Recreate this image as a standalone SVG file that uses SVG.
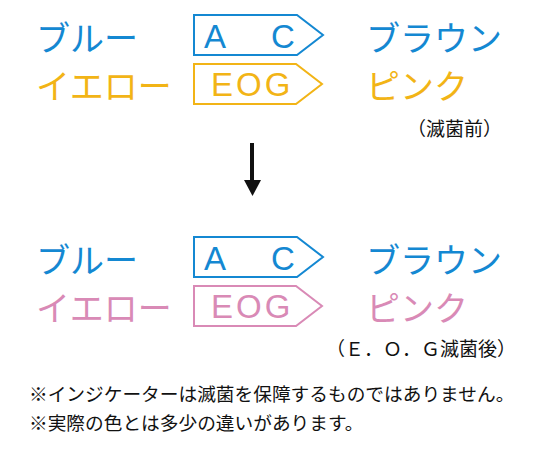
<svg xmlns="http://www.w3.org/2000/svg" width="540" height="450" viewBox="0 0 540 450">
<style>
.jp{font-family:"Noto Sans CJK JP","Liberation Sans",sans-serif}
.big{font-size:34px;font-weight:400}
.lat{font-family:"Liberation Sans",Arial,sans-serif;font-size:33px}
.blue{fill:#1488d2}
.yel{fill:#f2b416}
.pink{fill:#d98ab6}
.box{fill:none;stroke-width:2}
.note{font-size:18.7px;fill:#111}
.lbl{font-size:19px;fill:#111}
</style>
<rect width="540" height="450" fill="#fff"/>
<g id="before">
<g id="blue1"><text class="jp big blue" x="36" y="51">ブルー</text></g>
<g id="tag-ac-1"><path class="box" stroke="#1488d2" d="M194,15 H297 L323,35 L297,55 H194 Z"/>
<text class="lat blue" x="204" y="48">A</text><text class="lat blue" x="271" y="48">C</text></g>
<g id="brown1"><text class="jp big blue" x="366" y="51">ブラウン</text></g>
<g id="yellow1"><text class="jp big yel" x="36" y="99">イエロー</text></g>
<g id="tag-eog-1"><path class="box" stroke="#f2b416" d="M194,64 H296 L322,84 L296,104 H194 Z"/>
<text class="lat yel" x="211" y="96" letter-spacing="3">EOG</text></g>
<g id="pink1"><text class="jp big yel" x="366" y="99">ピンク</text></g>
<g id="label-before"><text class="jp lbl" x="407" y="136">（滅菌前）</text></g>
</g>
<g id="connectors">
<line x1="252" y1="143" x2="252" y2="182" stroke="#111" stroke-width="4"/>
<polygon points="244,180 261,180 252.5,196" fill="#111"/>
</g>
<g id="after">
<g id="blue2"><text class="jp big blue" x="36" y="273">ブルー</text></g>
<g id="tag-ac-2"><path class="box" stroke="#1488d2" d="M194,237 H297 L323,257 L297,277 H194 Z"/>
<text class="lat blue" x="204" y="270">A</text><text class="lat blue" x="271" y="270">C</text></g>
<g id="brown2"><text class="jp big blue" x="366" y="273">ブラウン</text></g>
<g id="yellow2"><text class="jp big pink" x="36" y="321">イエロー</text></g>
<g id="tag-eog-2"><path class="box" stroke="#d98ab6" d="M194,286 H296 L322,306 L296,326 H194 Z"/>
<text class="lat pink" x="211" y="318" letter-spacing="3">EOG</text></g>
<g id="pink2"><text class="jp big pink" x="366" y="321">ピンク</text></g>
<g id="label-after"><text class="jp lbl" x="326" y="356">（Ｅ．Ｏ．Ｇ滅菌後）</text></g>
</g>
<g id="notes">
<text class="jp note" x="29" y="401">※インジケーターは滅菌を保障するものではありません。</text>
<text class="jp note" x="29" y="430">※実際の色とは多少の違いがあります。</text>
</g>
</svg>
